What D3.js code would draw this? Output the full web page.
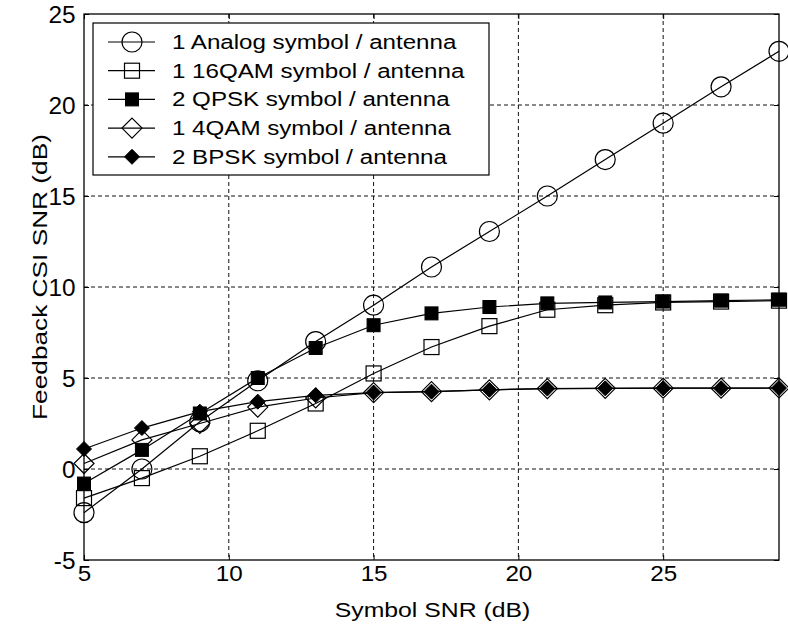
<!DOCTYPE html>
<html>
<head>
<meta charset="utf-8">
<title>Feedback CSI SNR</title>
<style>
  body { margin: 0; background: #fff; }
  svg text { font-family: "Liberation Sans", Arial, sans-serif; fill: #000; }
</style>
</head>
<body>
<div id="svgContainer"></div>
<script src="https://d3js.org/d3.v7.min.js"></script>
<script>
// x values (symbol SNR, dB)
var snr = [5, 7, 9, 11, 13, 15, 17, 19, 21, 23, 25, 27, 29];

// series
var analog = [-2.4, 0.0, 2.6, 4.85, 7.0, 9.0, 11.1, 13.05, 15.0, 17.0, 19.0, 21.0, 22.95];
var qam16  = [-1.6, -0.5, 0.7, 2.1, 3.6, 5.25, 6.7, 7.85, 8.75, 9.0, 9.15, 9.2, 9.25];
var qpsk   = [-0.8, 1.05, 3.05, 5.0, 6.65, 7.9, 8.55, 8.9, 9.1, 9.15, 9.2, 9.25, 9.3];
var qam4   = [0.3, 1.6, 2.5, 3.4, 3.9, 4.2, 4.25, 4.35, 4.42, 4.43, 4.44, 4.44, 4.45];
var bpsk   = [1.1, 2.25, 3.15, 3.7, 4.05, 4.2, 4.25, 4.35, 4.42, 4.43, 4.44, 4.44, 4.45];

var legendLabels = [
    "1 Analog symbol / antenna",
    "1 16QAM symbol / antenna",
    "2 QPSK symbol / antenna",
    "1 4QAM symbol / antenna",
    "2 BPSK symbol / antenna"
];
var markerTypes = ["circle", "squareOpen", "squareFilled", "diamondOpen", "diamondFilled"];

var xTicks = [5, 10, 15, 20, 25];
var yTicks = [-5, 0, 5, 10, 15, 20, 25];

var series = [analog, qam16, qpsk, qam4, bpsk];

var margin = { top: 14, right: 9, bottom: 73, left: 84 },
    width = 788 - margin.left - margin.right,
    height = 633 - margin.top - margin.bottom;

var svg = d3.select("#svgContainer")
    .append("svg")
    .attr("width", 788)
    .attr("height", 633);

var chart = svg.append("g")
    .attr("transform", "translate(" + margin.left + "," + margin.top + ")");

var xScale = d3.scaleLinear().domain([5, 29]).range([0, width]);
var yScale = d3.scaleLinear().domain([-5, 25]).range([height, 0]);

// grid
chart.append("g")
    .selectAll("line")
    .data(xTicks.filter(d => d > 5))
    .enter().append("line")
    .attr("x1", d => xScale(d)).attr("x2", d => xScale(d))
    .attr("y1", 0).attr("y2", height)
    .attr("stroke", "#111").attr("stroke-width", 1)
    .attr("stroke-dasharray", "4,3");
chart.append("g")
    .selectAll("line")
    .data(yTicks.filter(d => d > -5 && d < 25))
    .enter().append("line")
    .attr("x1", 0).attr("x2", width)
    .attr("y1", d => yScale(d)).attr("y2", d => yScale(d))
    .attr("stroke", "#111").attr("stroke-width", 1)
    .attr("stroke-dasharray", "4,3");

// axes
var xAxis = chart.append("g")
    .attr("transform", "translate(0," + height + ")")
    .call(d3.axisBottom(xScale).tickValues(xTicks).tickSize(-5).tickPadding(5)
        .tickFormat(d => String(d)));
xAxis.selectAll("text")
    .style("font-size", "22px")
    .attr("transform", "scale(1.1,1)");

var yAxis = chart.append("g")
    .call(d3.axisLeft(yScale).tickValues(yTicks).tickSize(-5).tickPadding(8)
        .tickFormat(d => String(d)));
yAxis.selectAll("text")
    .style("font-size", "23px")
    .attr("dy", "0.36em")
    .attr("transform", "scale(1.06,1)");

chart.selectAll(".domain").remove();
chart.selectAll(".tick line").attr("stroke", "#000");

// top / right ticks
chart.append("g").call(d3.axisTop(xScale).tickValues(xTicks).tickSize(-5).tickFormat(""))
    .select(".domain").remove();
chart.append("g").attr("transform", "translate(" + width + ",0)")
    .call(d3.axisRight(yScale).tickValues(yTicks).tickSize(-5).tickFormat(""))
    .select(".domain").remove();

chart.append("rect")
    .attr("x", 0).attr("y", 0)
    .attr("width", width).attr("height", height)
    .attr("fill", "none").attr("stroke", "#000").attr("stroke-width", 1.3);

// axis titles
chart.append("text")
    .attr("transform", "translate(" + (width / 2 + 1) + "," + (height + 57) + ") scale(1.18,1)")
    .attr("text-anchor", "middle")
    .style("font-size", "21px")
    .text("Symbol SNR (dB)");

chart.append("text")
    .attr("transform", "translate(-37," + (277 - margin.top) + ") rotate(-90) scale(1.25,1)")
    .attr("text-anchor", "middle")
    .style("font-size", "21px")
    .text("Feedback CSI SNR (dB)");

// marker drawing
function drawMarker(g, type) {
    if (type === "circle") {
        g.append("circle").attr("r", 10)
            .attr("fill", "none").attr("stroke", "#000").attr("stroke-width", 1.2);
    } else if (type === "squareOpen") {
        g.append("rect").attr("x", -7.5).attr("y", -7.5).attr("width", 15).attr("height", 15)
            .attr("fill", "none").attr("stroke", "#000").attr("stroke-width", 1.2);
    } else if (type === "squareFilled") {
        g.append("rect").attr("x", -6.5).attr("y", -6.5).attr("width", 13).attr("height", 13)
            .attr("fill", "#000").attr("stroke", "#000").attr("stroke-width", 1);
    } else if (type === "diamondOpen") {
        g.append("path").attr("d", "M0,-10L10,0L0,10L-10,0Z")
            .attr("fill", "none").attr("stroke", "#000").attr("stroke-width", 1.2);
    } else if (type === "diamondFilled") {
        g.append("path").attr("d", "M0,-7.5L7.5,0L0,7.5L-7.5,0Z")
            .attr("fill", "#000").attr("stroke", "#000").attr("stroke-width", 1);
    }
}

var line = d3.line()
    .x((d, i) => xScale(snr[i]))
    .y(d => yScale(d));

series.forEach(function(vals, k) {
    chart.append("path")
        .datum(vals)
        .attr("d", line)
        .attr("fill", "none")
        .attr("stroke", "#000")
        .attr("stroke-width", 1.2);
    vals.forEach(function(v, i) {
        var g = chart.append("g")
            .attr("transform", "translate(" + xScale(snr[i]) + "," + yScale(v) + ")");
        drawMarker(g, markerTypes[k]);
    });
});

// legend
var legend = svg.append("g").attr("transform", "translate(93,23)");
legend.append("rect")
    .attr("width", 396).attr("height", 152)
    .attr("fill", "#fff").attr("stroke", "#000").attr("stroke-width", 1.2);

legendLabels.forEach(function(label, i) {
    var rowY = 19 + i * 28.7;
    legend.append("line")
        .attr("x1", 15).attr("x2", 62)
        .attr("y1", rowY).attr("y2", rowY)
        .attr("stroke", "#000").attr("stroke-width", 1.2);
    var g = legend.append("g").attr("transform", "translate(39," + rowY + ")");
    drawMarker(g, markerTypes[i]);
    legend.append("text")
        .attr("transform", "translate(79," + (rowY + 7) + ") scale(1.15,1)")
        .style("font-size", "21px")
        .text(label);
});
</script>
</body>
</html>
